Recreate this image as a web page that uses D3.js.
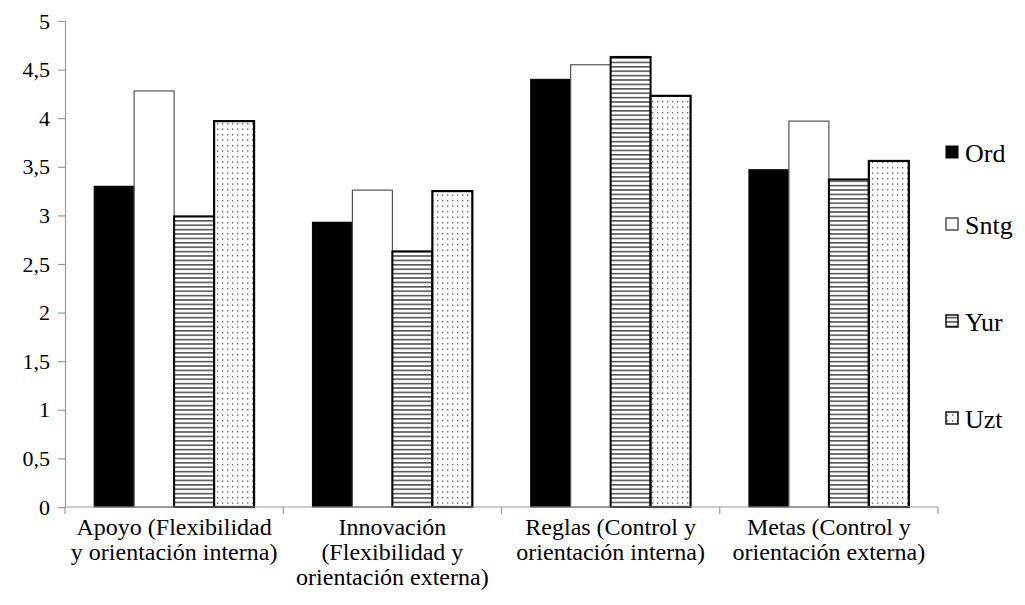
<!DOCTYPE html>
<html><head><meta charset="utf-8">
<script src="https://cdn.jsdelivr.net/npm/d3@7/dist/d3.min.js"></script>
</head><body style="margin:0">
<svg id="c" width="1025" height="605" font-family="'Liberation Serif', 'Times New Roman', Tinos, serif"></svg>
<script>
const categories = [
  ["Apoyo (Flexibilidad", "y orientación interna)"],
  ["Innovación", "(Flexibilidad y", "orientación externa)"],
  ["Reglas (Control y", "orientación interna)"],
  ["Metas (Control y", "orientación externa)"]
];
const seriesNames = ["Ord", "Sntg", "Yur", "Uzt"];
const Ord  = [3.30, 2.93, 4.40, 3.47];
const Sntg = [4.28, 3.26, 4.55, 3.97];
const Yur  = [2.99, 2.63, 4.63, 3.37];
const Uzt  = [3.97, 3.25, 4.23, 3.56];
const yTicks = [0, 0.5, 1, 1.5, 2, 2.5, 3, 3.5, 4, 4.5, 5];
const seriesValues = [Ord, Sntg, Yur, Uzt];

const FONT = "'Liberation Serif', 'Times New Roman', Tinos, serif";
const svg = d3.select("#c");
svg.style("font-family", FONT);
const defs = svg.append("defs");
const hp = defs.append("pattern").attr("id","hlines").attr("patternUnits","userSpaceOnUse")
  .attr("width",8).attr("height",4.4);
hp.append("rect").attr("width",8).attr("height",4.4).attr("fill","#fff");
hp.append("rect").attr("y",0).attr("width",8).attr("height",1.6).attr("fill","#555");
const dp = defs.append("pattern").attr("id","dots").attr("patternUnits","userSpaceOnUse")
  .attr("width",5).attr("height",5.5);
dp.append("rect").attr("width",5).attr("height",5.5).attr("fill","#fff");
dp.append("rect").attr("x",2).attr("y",2).attr("width",1.3).attr("height",1.3).attr("fill","#444");

const fills = ["#000", "#fff", "url(#hlines)", "url(#dots)"];
const strokes = ["#000", "#555", "#000", "#000"];
const strokeW = [1, 1.2, 2, 2.2];

const pLeft = 65, pRight = 938, pTop = 21, pBottom = 507;
const x = d3.scaleBand().domain(d3.range(categories.length)).range([pLeft, pRight]).paddingInner(0).paddingOuter(0);
const x1 = d3.scaleBand().domain(d3.range(seriesNames.length)).range([0, x.bandwidth()]).paddingOuter(0.73).paddingInner(0);
const y = d3.scaleLinear().domain([0, 5]).range([pBottom, pTop]);

// y axis
const ya = svg.append("g").attr("transform", `translate(${pLeft},0)`)
  .call(d3.axisLeft(y).tickValues(yTicks).tickSize(7).tickPadding(8)
    .tickFormat(d => String(d).replace(".", ",")));
ya.attr("font-family", FONT).attr("font-size", 22);
ya.select(".domain").attr("stroke","#999").attr("stroke-width",1.2);
ya.selectAll(".tick line").attr("stroke","#999").attr("stroke-width",1.2);
ya.selectAll("text").style("font-family", FONT).style("font-size","22px").attr("fill","#000");

// bars
const g = svg.append("g");
categories.forEach((c, ci) => {
  seriesValues.forEach((vals, si) => {
    const v = vals[ci];
    g.append("rect")
      .attr("x", x(ci) + x1(si))
      .attr("y", y(v))
      .attr("width", x1.bandwidth())
      .attr("height", y(0) - y(v))
      .attr("fill", fills[si])
      .attr("stroke", strokes[si])
      .attr("stroke-width", strokeW[si]);
  });
});

// x axis
const xa = svg.append("g").attr("transform", `translate(0,${pBottom})`);
xa.append("line").attr("x1", pLeft).attr("x2", pRight).attr("stroke","#999").attr("stroke-width",1.2);
const tickXs = d3.range(categories.length + 1).map(i => i < categories.length ? x(i) : x(i-1) + x.bandwidth());
xa.selectAll("line.t").data(tickXs).join("line").attr("class","t")
  .attr("x1", d => d).attr("x2", d => d).attr("y1", 0).attr("y2", 7)
  .attr("stroke","#999").attr("stroke-width",1.2);

categories.forEach((lines, ci) => {
  const t = svg.append("text").attr("text-anchor","middle")
    .style("font-family", FONT).style("font-size","24px");
  lines.forEach((l, li) => {
    t.append("tspan").attr("x", x(ci) + x.bandwidth()/2).attr("y", 535 + li*25).text(l);
  });
});

// legend
const legY = [153, 225, 322, 419];
seriesNames.forEach((n, i) => {
  svg.append("rect").attr("x", 946).attr("y", legY[i] - 7).attr("width", 12).attr("height", 12)
    .attr("fill", fills[i]).attr("stroke", strokes[i] === "#555" ? "#444" : "#000").attr("stroke-width", i===0?1:1.4);
  svg.append("text").attr("x", 965).attr("y", legY[i] + 9)
    .style("font-family", FONT).style("font-size","26px").text(n);
});
</script>
</body></html>
